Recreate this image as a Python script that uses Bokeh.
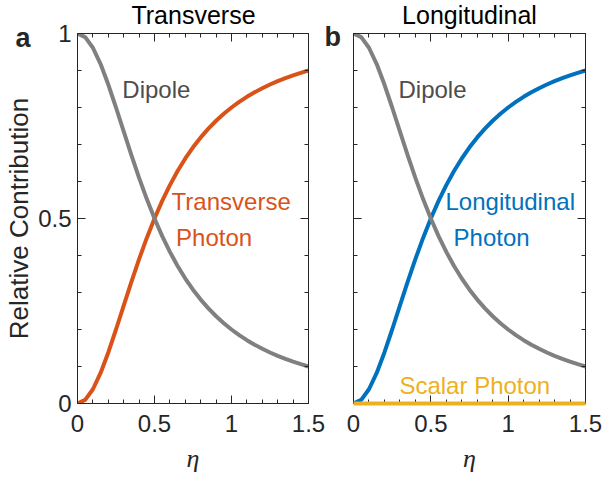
from bokeh.plotting import figure
from bokeh.models import (Range1d, FixedTicker, LinearAxis, Label,
                          CustomLabelingPolicy)
from bokeh.layouts import row
from bokeh.embed import file_html
from bokeh.resources import INLINE

# ---- data ----
eta = [0.0, 0.05, 0.1, 0.15, 0.2, 0.25, 0.3, 0.35, 0.4, 0.45, 0.5, 0.55, 0.6, 0.65,
       0.7, 0.75, 0.8, 0.85, 0.9, 0.95, 1.0, 1.05, 1.1, 1.15, 1.2, 1.25, 1.3, 1.35,
       1.4, 1.45, 1.5]
dipole = [1.0, 0.9901, 0.9615, 0.9174, 0.8621, 0.8, 0.7353, 0.6711, 0.6098, 0.5525,
          0.5, 0.4525, 0.4098, 0.3717, 0.3378, 0.3077, 0.2809, 0.2571, 0.2358, 0.2169,
          0.2, 0.1848, 0.1712, 0.159, 0.1479, 0.1379, 0.1289, 0.1206, 0.1131, 0.1063, 0.1]
transverse_photon = [0.0, 0.0099, 0.0385, 0.0826, 0.1379, 0.2, 0.2647, 0.3289, 0.3902,
                     0.4475, 0.5, 0.5475, 0.5902, 0.6283, 0.6622, 0.6923, 0.7191, 0.7429,
                     0.7642, 0.7831, 0.8, 0.8152, 0.8288, 0.841, 0.8521, 0.8621, 0.8711,
                     0.8794, 0.8869, 0.8937, 0.9]
longitudinal_photon = [0.0, 0.0099, 0.0385, 0.0826, 0.1379, 0.2, 0.2647, 0.3289, 0.3902,
                       0.4475, 0.5, 0.5475, 0.5902, 0.6283, 0.6622, 0.6923, 0.7191, 0.7429,
                       0.7642, 0.7831, 0.8, 0.8152, 0.8288, 0.841, 0.8521, 0.8621, 0.8711,
                       0.8794, 0.8869, 0.8937, 0.9]
scalar_eta = [0.0, 1.5]
scalar_photon = [0.0, 0.0]

x_ticks = [0, 0.5, 1, 1.5]
x_tick_labels = ["0", "0.5", "1", "1.5"]
y_ticks = [0, 0.5, 1]
y_tick_labels = ["0", "0.5", "1"]
x_minor = [0.1, 0.2, 0.3, 0.4, 0.6, 0.7, 0.8, 0.9, 1.1, 1.2, 1.3, 1.4]
y_minor = [0.1, 0.2, 0.3, 0.4, 0.6, 0.7, 0.8, 0.9]

GRAY = "#808080"
ORANGE = "#D95319"
BLUE = "#0072BD"
YELLOW = "#EDB120"
AX = "#262626"
FONT = "Liberation Sans"


def style_axis(ax, ticks, minor, labels, show_labels):
    ax.ticker = FixedTicker(ticks=ticks, minor_ticks=minor)
    ax.axis_line_color = AX
    ax.major_tick_line_color = AX
    ax.minor_tick_line_color = AX
    ax.major_tick_in = 8
    ax.major_tick_out = 0
    ax.minor_tick_in = 4
    ax.minor_tick_out = 0
    ax.major_label_text_font = FONT
    ax.major_label_text_color = AX
    if show_labels:
        ax.major_label_overrides = {t: l for t, l in zip(ticks, labels)}
        ax.major_label_text_font_size = "24px"
    else:
        ax.major_label_policy = CustomLabelingPolicy(code="return new Set()")
        ax.major_label_text_font_size = "1px"
        ax.major_label_standoff = -2


def make_panel(width, border_left, border_right, show_ylabel):
    p = figure(width=width, height=480,
               x_range=Range1d(0, 1.5), y_range=Range1d(0, 1),
               output_backend="svg", toolbar_location=None,
               min_border_left=border_left, min_border_right=border_right,
               min_border_top=33, min_border_bottom=77,
               background_fill_color="white", border_fill_color="white")
    p.grid.visible = False
    p.outline_line_color = AX
    style_axis(p.xaxis[0], x_ticks, x_minor, x_tick_labels, True)
    p.xaxis.major_label_standoff = 11
    style_axis(p.yaxis[0], y_ticks, y_minor, y_tick_labels, show_ylabel)
    p.xaxis.axis_label = "η"
    p.xaxis.axis_label_text_font = "Liberation Serif"
    p.xaxis.axis_label_text_font_style = "italic"
    p.xaxis.axis_label_text_font_size = "26px"
    p.xaxis.axis_label_text_color = AX
    p.xaxis.axis_label_standoff = 9
    if show_ylabel:
        p.yaxis.major_label_standoff = 6
        p.yaxis.axis_label = "Relative Contribution"
        p.yaxis.axis_label_text_font = FONT
        p.yaxis.axis_label_text_font_style = "normal"
        p.yaxis.axis_label_text_font_size = "26px"
        p.yaxis.axis_label_text_color = AX
        p.yaxis.axis_label_standoff = 1
    top = LinearAxis()
    style_axis(top, x_ticks, x_minor, None, False)
    p.add_layout(top, "above")
    right = LinearAxis()
    style_axis(right, y_ticks, y_minor, None, False)
    p.add_layout(right, "right")
    return p


def note(p, x, y, text, color):
    p.add_layout(Label(x=x, y=y, text=text, text_align="left",
                       text_baseline="middle", text_font=FONT,
                       text_font_size="24px", text_color=color))


def border_text(p, side, x, y, text, size, bold=False, align="left"):
    # placed in a border panel so it is not clipped to the frame
    p.add_layout(Label(x=x, y=y, x_units="canvas", y_units="canvas", text=text,
                       text_align=align, text_baseline="middle", text_font=FONT,
                       text_font_size=size,
                       text_font_style="bold" if bold else "normal",
                       text_color=AX if bold else "black"), side)


# ---- panel a ----
pa = make_panel(325, 77, 16, True)
pa.line(eta, transverse_photon, line_color=ORANGE, line_width=4, line_cap="round")
pa.line(eta, dipole, line_color=GRAY, line_width=4, line_cap="round")
note(pa, 0.291, 0.848, "Dipole", "#4D4D4D")
note(pa, 0.611, 0.547, "Transverse", ORANGE)
note(pa, 0.640, 0.450, "Photon", ORANGE)
border_text(pa, "above", 193, 14.6, "Transverse", "25px", align="center")
border_text(pa, "right", 15, 37.1, "a", "27px", bold=True)

# ---- panel b ----
pb = make_panel(277, 28, 17, False)
pb.line(scalar_eta, scalar_photon, line_color=YELLOW, line_width=4, level="overlay")
pb.line(eta, longitudinal_photon, line_color=BLUE, line_width=4, line_cap="round")
pb.line(eta, dipole, line_color=GRAY, line_width=4, line_cap="round")
note(pb, 0.291, 0.848, "Dipole", "#4D4D4D")
note(pb, 0.595, 0.547, "Longitudinal", BLUE)
note(pb, 0.647, 0.448, "Photon", BLUE)
note(pb, 0.297, 0.050, "Scalar Photon", YELLOW)
border_text(pb, "above", 144, 14.6, "Longitudinal", "25px", align="center")
border_text(pb, "left", -1, 36.1, "b", "27px", bold=True)

layout = row(pa, pb)
open("out.html", "w").write(file_html(layout, INLINE))
